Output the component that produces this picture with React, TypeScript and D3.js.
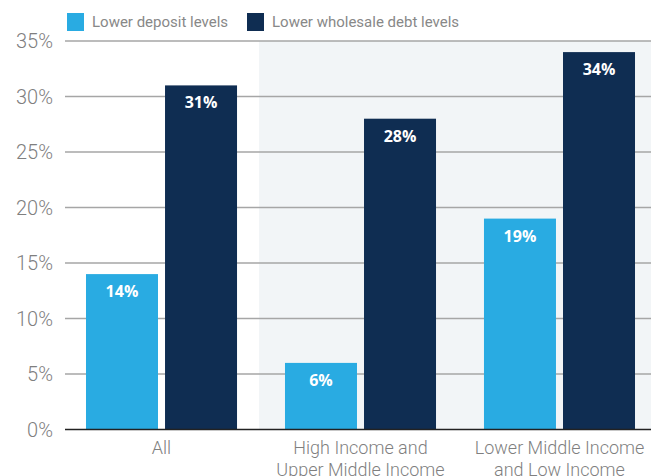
import { useEffect, useRef } from "react";
import * as d3 from "d3";

const categories = ["All", "High Income and\nUpper Middle Income", "Lower Middle Income\nand Low Income"];
const seriesNames = ["Lower deposit levels", "Lower wholesale debt levels"];
const depositValues = [14, 6, 19];
const wholesaleValues = [31, 28, 34];
const yTicks = [0, 5, 10, 15, 20, 25, 30, 35];

const COLORS = ["#29abe2", "#0f2d52"];
const W = 651;
const H = 476;

export default function App() {
  const ref = useRef<SVGSVGElement | null>(null);

  useEffect(() => {
    const svgEl = ref.current;
    if (!svgEl) return;
    const svg = d3.select(svgEl);
    svg.selectAll("*").remove();

    const left = 65;
    const right = W;
    const top = 41;
    const bottom = 429.5;

    const y = d3.scaleLinear().domain([0, 35]).range([bottom, top]);
    const x0 = d3.scaleBand<number>().domain([0, 1, 2]).range([left, 656]).paddingInner(0.241).paddingOuter(0.1055);
    const x1 = d3.scaleBand<number>().domain([0, 1]).range([0, x0.bandwidth()]).paddingInner(0.089);

    // shaded region behind the income groups
    const shadeX = (x0(0)! + x0.bandwidth() + x0(1)!) / 2 - 2;
    svg
      .append("rect")
      .attr("x", shadeX)
      .attr("y", top)
      .attr("width", W - shadeX)
      .attr("height", bottom - top)
      .attr("fill", "#f2f5f7");

    // gridlines
    svg
      .append("g")
      .selectAll("line")
      .data(yTicks.filter((t) => t > 0))
      .join("line")
      .attr("x1", left)
      .attr("x2", right)
      .attr("y1", (d) => y(d))
      .attr("y2", (d) => y(d))
      .attr("stroke", "#a6a6a6")
      .attr("stroke-width", 1.5);

    // tick labels
    svg
      .append("g")
      .selectAll("text")
      .data(yTicks)
      .join("text")
      .attr("x", 53)
      .attr("y", (d) => y(d))
      .attr("dy", "0.36em")
      .attr("text-anchor", "end")
      .attr("fill", "#7f7f7f")
      .style("font", "300 20px Roboto, sans-serif")
      .text((d) => `${d}%`);

    const rows = categories.map((c, i) => ({ c, i, vals: [depositValues[i], wholesaleValues[i]] }));

    const g = svg
      .append("g")
      .selectAll("g")
      .data(rows)
      .join("g")
      .attr("transform", (d) => `translate(${x0(d.i)},0)`);

    const cells = g
      .selectAll("g")
      .data((d) => d.vals.map((v, s) => ({ v, s })))
      .join("g");

    cells
      .append("rect")
      .attr("x", (d) => x1(d.s)!)
      .attr("y", (d) => y(d.v))
      .attr("width", x1.bandwidth())
      .attr("height", (d) => bottom - y(d.v))
      .attr("fill", (d) => COLORS[d.s]);

    cells
      .append("text")
      .attr("x", (d) => x1(d.s)! + x1.bandwidth() / 2)
      .attr("y", (d) => y(d.v) + 23)
      .attr("text-anchor", "middle")
      .attr("fill", "#ffffff")
      .style("font", "bold 16px 'Open Sans', sans-serif")
      .text((d) => `${d.v}%`);

    // zero line
    svg
      .append("line")
      .attr("x1", left)
      .attr("x2", right)
      .attr("y1", bottom)
      .attr("y2", bottom)
      .attr("stroke", "#222")
      .attr("stroke-width", 1.5);

    // category labels
    const cl = svg
      .append("g")
      .selectAll("text")
      .data(rows)
      .join("text")
      .attr("text-anchor", "middle")
      .attr("fill", "#7f7f7f")
      .style("font", "300 18px Roboto, sans-serif");
    cl.selectAll("tspan")
      .data((d) => d.c.split("\n").map((t) => ({ t, x: x0(d.i)! + x0.bandwidth() / 2 })))
      .join("tspan")
      .attr("x", (d) => d.x)
      .attr("y", (_d, k) => 454 + k * 22)
      .text((d) => d.t);

    // legend
    const lg = svg
      .append("g")
      .selectAll("g")
      .data(seriesNames)
      .join("g")
      .attr("transform", (_d, i) => `translate(${[67, 247][i]},13)`);
    lg.append("rect").attr("width", 17).attr("height", 18).attr("fill", (_d, i) => COLORS[i]);
    lg.append("text")
      .attr("x", 25)
      .attr("y", 9)
      .attr("dy", "0.36em")
      .attr("fill", "#888888")
      .style("font", "15px Roboto, sans-serif")
      .text((d) => d);
  }, []);

  return (
    <svg
      ref={ref}
      width={W}
      height={H}
      style={{ position: "absolute", left: 0, top: 0, display: "block", background: "#fff" }}
    />
  );
}
